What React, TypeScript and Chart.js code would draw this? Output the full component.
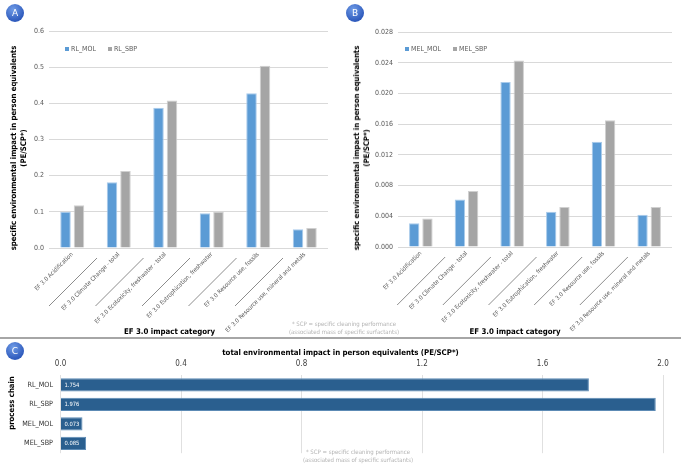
import React, { useEffect, useRef } from "react";
import { Chart, registerables } from "chart.js";
Chart.register(...registerables);

const categories = [
  "EF 3.0 Acidification",
  "EF 3.0 Climate Change - total",
  "EF 3.0 Ecotoxicity, freshwater - total",
  "EF 3.0 Eutrophication, freshwater",
  "EF 3.0 Resource use, fossils",
  "EF 3.0 Resource use, mineral and metals",
];
const rlMol = [0.1, 0.182, 0.388, 0.096, 0.428, 0.052];
const rlSbp = [0.118, 0.213, 0.408, 0.1, 0.504, 0.055];
const melMol = [0.0031, 0.0062, 0.0215, 0.0046, 0.0137, 0.0042];
const melSbp = [0.0037, 0.0073, 0.0243, 0.0052, 0.0165, 0.0052];
const chains = ["RL_MOL", "RL_SBP", "MEL_MOL", "MEL_SBP"];
const totals = [1.754, 1.976, 0.073, 0.085];
const seriesA = ["RL_MOL", "RL_SBP"];
const seriesB = ["MEL_MOL", "MEL_SBP"];
const maxA = 0.6, stepA = 0.1;
const maxB = 0.028, stepB = 0.004;
const maxC = 2.0, stepC = 0.4;

const FONT = "'DejaVu Sans Condensed','DejaVu Sans',sans-serif";
const BLUE = "#5b9bd5";
const GRAY = "#a5a5a5";
const DARK = "#2a5f8f";

const diagPlugin = {
  id: "diag",
  afterDraw(chart: any) {
    const x = chart.scales.x;
    const { ctx, chartArea } = chart;
    ctx.save();
    ctx.strokeStyle = "#8c8c8c";
    ctx.lineWidth = 1;
    for (let i = 1; i < categories.length; i++) {
      const bx = (x.getPixelForTick(i - 1) + x.getPixelForTick(i)) / 2;
      ctx.beginPath();
      ctx.moveTo(bx + 1.5, chartArea.bottom + 10);
      ctx.lineTo(bx - 46.5, chartArea.bottom + 58);
      ctx.stroke();
    }
    ctx.restore();
  },
};

function barConfig(labels: string[], a: number[], b: number[], max: number, step: number, dec: number, yWidth: number, xHeight: number, padRight: number, padTop: number) {
  return {
    type: "bar",
    data: {
      labels: categories,
      datasets: [
        { label: labels[0], data: a, backgroundColor: BLUE, borderColor: "#a9cbeb", borderWidth: 1, categoryPercentage: 0.58, barPercentage: 0.78 },
        { label: labels[1], data: b, backgroundColor: GRAY, borderColor: "#d0d0d0", borderWidth: 1, categoryPercentage: 0.58, barPercentage: 0.78 },
      ],
    },
    options: {
      animation: false,
      responsive: false,
      layout: { padding: { left: 0, right: padRight, top: padTop, bottom: 0 } },
      plugins: { legend: { display: false }, tooltip: { enabled: false } },
      scales: {
        x: {
          grid: { display: false, drawTicks: false },
          border: { display: false },
          ticks: { autoSkip: false, minRotation: 45, maxRotation: 45, padding: 3, color: "#595959", font: { family: FONT, size: 6 } },
          afterFit: (s: any) => { s.height = xHeight; },
        },
        y: {
          min: 0,
          max,
          grid: { color: "#d9d9d9", drawTicks: false },
          border: { display: false },
          ticks: { stepSize: step, padding: 5, color: "#595959", font: { family: FONT, size: 7 }, callback: (v: any) => Number(v).toFixed(dec) },
          afterFit: (s: any) => { s.width = yWidth; },
        },
      },
    },
    plugins: [diagPlugin],
  };
}

const labelPlugin = {
  id: "vals",
  afterDatasetsDraw(chart: any) {
    const { ctx } = chart;
    const meta = chart.getDatasetMeta(0);
    ctx.save();
    ctx.fillStyle = "#ffffff";
    ctx.font = `5.8px ${FONT}`;
    ctx.textBaseline = "middle";
    ctx.textAlign = "left";
    meta.data.forEach((bar: any, i: number) => {
      ctx.fillText(totals[i].toFixed(3), bar.base + 3.5, bar.y + 0.5);
    });
    ctx.restore();
  },
};

function configC() {
  return {
    type: "bar",
    data: {
      labels: chains,
      datasets: [{ data: totals, backgroundColor: DARK, borderColor: "#5d8bb5", borderWidth: 1, categoryPercentage: 1, barPercentage: 0.68 }],
    },
    options: {
      indexAxis: "y",
      animation: false,
      responsive: false,
      layout: { padding: { left: 0, right: 22, top: 0, bottom: 7.6 } },
      plugins: { legend: { display: false }, tooltip: { enabled: false } },
      scales: {
        x: {
          position: "top",
          min: 0,
          max: maxC,
          grid: { color: "#e0e0e0", drawTicks: false },
          border: { display: false },
          ticks: { stepSize: stepC, padding: 6, color: "#404040", font: { family: FONT, size: 8 }, callback: (v: any) => Number(v).toFixed(1) },
          afterFit: (s: any) => { s.height = 35; },
        },
        y: {
          grid: { display: false, drawTicks: false },
          border: { display: false },
          ticks: { padding: 7.5, color: "#333333", font: { family: FONT, size: 7.2 } },
          afterFit: (s: any) => { s.width = 60.5; },
        },
      },
    },
    plugins: [labelPlugin],
  };
}

function ChartCanvas({ config, left, top, width, height }: any) {
  const ref = useRef<HTMLCanvasElement>(null);
  useEffect(() => {
    const c = new Chart(ref.current as any, config() as any);
    return () => c.destroy();
  }, []);
  return <canvas ref={ref} width={width} height={height} style={{ position: "absolute", left, top, width, height }} />;
}

const abs = (s: any) => ({ position: "absolute", ...s });

function Badge({ x, y, t }: any) {
  return (
    <div style={abs({ left: x - 9, top: y - 9, width: 18, height: 18, borderRadius: "50%", background: "radial-gradient(circle at 40% 30%, #6f9be6, #2f5bbd 70%)", color: "#fff", fontFamily: "'DejaVu Sans',sans-serif", fontSize: 9, lineHeight: "18px", textAlign: "center" })}>{t}</div>
  );
}

function YTitle({ x, y, lines }: any) {
  return (
    <div style={abs({ left: x, top: y, transform: "translate(-50%,-50%) rotate(-90deg)", whiteSpace: "nowrap", textAlign: "center", fontFamily: FONT, fontWeight: "bold", fontSize: 7.7, lineHeight: "10px", color: "#000" })}>
      {lines.map((l: string, i: number) => <div key={i}>{l}</div>)}
    </div>
  );
}

function CTitle({ x, y, text }: any) {
  return <div style={abs({ left: x, top: y, transform: "translate(-50%,-50%)", whiteSpace: "nowrap", fontFamily: FONT, fontWeight: "bold", fontSize: 7.8, color: "#000" })}>{text}</div>;
}

function Legend({ x, y, names }: any) {
  return (
    <div style={abs({ left: x, top: y, display: "flex", alignItems: "center", fontFamily: FONT, fontSize: 7, color: "#595959", whiteSpace: "nowrap" })}>
      <span style={{ width: 4, height: 4, background: BLUE, display: "inline-block", marginRight: 2 }} />
      <span style={{ marginRight: 12 }}>{names[0]}</span>
      <span style={{ width: 4, height: 4, background: GRAY, display: "inline-block", marginRight: 2 }} />
      <span>{names[1]}</span>
    </div>
  );
}

function Note({ x, y }: any) {
  return (
    <div style={abs({ left: x, top: y, transform: "translateX(-50%)", whiteSpace: "nowrap", textAlign: "center", fontFamily: FONT, fontSize: 6, lineHeight: "8px", color: "#b3b3b3" })}>
      <div>* SCP = specific cleaning performance</div>
      <div>(associated mass of specific surfactants)</div>
    </div>
  );
}

export default function App() {
  const yLines = ["specific environmental impact in person equivalents", "(PE/SCP*)"];
  return (
    <div style={{ position: "absolute", left: 0, top: 0, width: 685, height: 465, overflow: "hidden", background: "#fff" }}>
      <ChartCanvas config={() => barConfig(seriesA, rlMol, rlSbp, maxA, stepA, 1, 49, 90, 12, 31)} left={0} top={0} width={340} height={338} />
      <ChartCanvas config={() => barConfig(seriesB, melMol, melSbp, maxB, stepB, 3, 58, 91, 13, 32)} left={340} top={0} width={345} height={338} />
      <ChartCanvas config={configC} left={0} top={340} width={685} height={125} />
      <Badge x={15} y={13} t="A" />
      <Badge x={355} y={13} t="B" />
      <Badge x={15} y={351} t="C" />
      <YTitle x={19} y={148} lines={yLines} />
      <YTitle x={362} y={148} lines={yLines} />
      <YTitle x={12} y={403} lines={["process chain"]} />
      <CTitle x={169.5} y={331} text="EF 3.0 impact category" />
      <CTitle x={515} y={331} text="EF 3.0 impact category" />
      <CTitle x={340.5} y={352} text="total environmental impact in person equivalents (PE/SCP*)" />
      <Legend x={65} y={45} names={seriesA} />
      <Legend x={405} y={45} names={seriesB} />
      <Note x={344} y={320} />
      <Note x={358} y={448} />
      <div style={abs({ left: 0, top: 337, width: 681, height: 2, background: "#a6a6a6" })} />
    </div>
  );
}
